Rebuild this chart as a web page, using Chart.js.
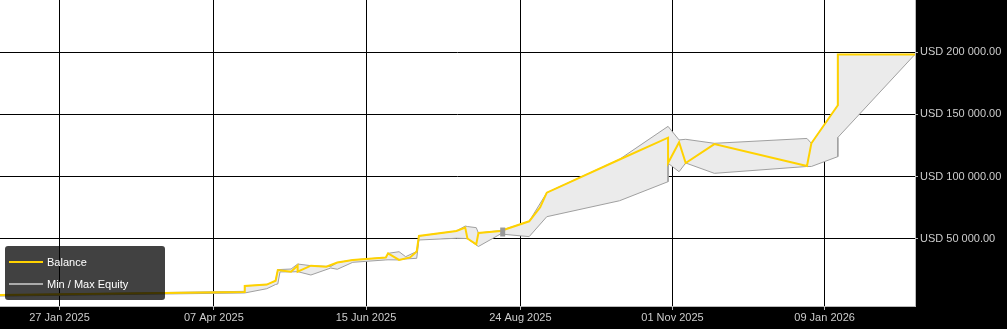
<!DOCTYPE html>
<html>
<head>
<meta charset="utf-8">
<script src="https://cdn.jsdelivr.net/npm/chart.js@4.4.1/dist/chart.umd.min.js"></script>
<style>
  html, body { margin: 0; padding: 0; background: #000; }
  #wrap { position: relative; width: 1007px; height: 329px; }
  #legend { position: absolute; left: 5px; top: 246px; width: 160px; height: 54px;
            background: rgba(0, 0, 0, 0.745); border-radius: 3px;
            font: 11px "Liberation Sans", Arial, sans-serif; color: #fff; }
  .sw { position: absolute; left: 4px; width: 34px; height: 2px; }
  .lb { position: absolute; left: 42px; line-height: 14px; white-space: nowrap; }
</style>
</head>
<body>
<div id="wrap">
  <canvas id="equityChart" width="1007" height="329"></canvas>
  <div id="legend">
    <div class="sw" style="top:15px;background:#FFD200"></div>
    <div class="lb" style="top:9px">Balance</div>
    <div class="sw" style="top:37px;background:#aaaaaa"></div>
    <div class="lb" style="top:31px">Min / Max Equity</div>
  </div>
</div>
<script>
// balance line
const balanceDates = ['2024-12-31','2025-04-21','2025-04-21','2025-05-01','2025-05-05','2025-05-06',
  '2025-05-12','2025-05-15','2025-05-15','2025-05-21','2025-05-28','2025-06-02','2025-06-09',
  '2025-06-24','2025-06-25','2025-06-30','2025-07-05','2025-07-08','2025-07-09','2025-07-26',
  '2025-07-30','2025-07-31','2025-08-04','2025-08-05','2025-08-15','2025-08-28','2025-09-02',
  '2025-09-05','2025-10-08','2025-10-30','2025-10-30','2025-11-04','2025-11-07','2025-11-20',
  '2026-01-01','2026-01-03','2026-01-15','2026-01-15','2026-02-19'];
const balanceValues = [5000,7500,12300,13400,16500,25100,
  23800,28700,23800,28600,27800,31100,33200,
  35200,38500,33200,35200,40000,52400,56400,
  59200,50400,45700,54800,56400,64200,75400,
  87200,113800,131300,111000,127600,111000,126200,
  108600,126800,157300,198100,198100];

// min / max equity band
const bandDates = ['2024-12-31','2025-04-21','2025-04-21','2025-05-01','2025-05-05','2025-05-06',
  '2025-05-07','2025-05-12','2025-05-15','2025-05-21','2025-05-30','2025-06-02','2025-06-09',
  '2025-06-24','2025-06-25','2025-06-30','2025-07-03','2025-07-08','2025-07-09','2025-07-26',
  '2025-07-30','2025-07-31','2025-08-04','2025-08-05','2025-08-15','2025-08-28','2025-09-05',
  '2025-10-08','2025-10-30','2025-10-30','2025-11-04','2025-11-07','2025-11-20','2026-01-01',
  '2026-01-03','2026-01-15','2026-01-15','2026-02-19'];
const equityMax = [5100,8000,12300,13400,16500,25500,
  25500,25900,29900,28600,27900,31100,33200,
  35200,38500,39800,35800,40000,52400,56400,
  60400,60000,59100,54800,56800,64200,87200,
  114000,140400,140400,129500,130000,126800,130700,
  126800,157300,198100,198200];
const equityMin = [4200,6700,6700,10100,13500,13900,
  23600,23600,23800,21100,26700,25700,31300,
  33200,33300,33200,34000,34500,49200,50600,
  50400,50200,45200,44000,54000,51900,67900,
  80700,96000,110800,104000,111000,102700,108200,
  108200,116100,131500,198200];

const markerDates = ['2025-08-16'];
const markerValues = [55600];

const xTickDates = ['2025-01-27','2025-04-07','2025-06-15','2025-08-24','2025-11-01','2026-01-09'];
const yTickValues = [50000, 100000, 150000, 200000];
const xRange = ['2024-12-31', '2026-02-19'];
const yRange = [-3770, 241800];

const MONTHS = ['Jan','Feb','Mar','Apr','May','Jun','Jul','Aug','Sep','Oct','Nov','Dec'];
const FONT = '"Liberation Sans", Arial, sans-serif';

toDay = (s) => Date.UTC(+s.slice(0, 4), +s.slice(5, 7) - 1, +s.slice(8, 10)) / 864e5;

formatDay = (v) => {
    const d = new Date(Math.round(v) * 864e5);
    return String(d.getUTCDate()).padStart(2, '0') + ' ' + MONTHS[d.getUTCMonth()] + ' ' + d.getUTCFullYear();
}

formatUsd = (v) => 'USD ' + String(v).replace(/\B(?=(\d{3})+(?!\d))/g, ' ') + '.00';

// band as one closed shape: max forward, min back
const bandPoints = bandDates.map((d, i) => ({ x: toDay(d), y: equityMax[i] }))
    .concat(bandDates.map((d, i) => ({ x: toDay(d), y: equityMin[i] })).reverse());

const whiteArea = {
    id: 'whiteArea',
    beforeDraw(chart) {
        const a = chart.chartArea;
        chart.ctx.save();
        chart.ctx.fillStyle = '#ffffff';
        chart.ctx.fillRect(a.left, a.top, a.right - a.left, a.bottom - a.top);
        chart.ctx.restore();
    }
};

// no extra room for the labels, the chart area fills the canvas
noPad = (scale) => {
    scale.paddingTop = 0;
    scale.paddingBottom = 0;
    scale.paddingLeft = 0;
    scale.paddingRight = 0;
}

new Chart(document.getElementById('equityChart'), {
    type: 'line',
    data: {
        datasets: [{
            label: 'marker',
            data: markerDates.map((d, i) => ({ x: toDay(d), y: markerValues[i] })),
            showLine: false,
            pointStyle: 'line',
            rotation: 90,
            pointRadius: 4.5,
            pointBorderWidth: 5,
            pointBorderColor: '#999999',
            pointBackgroundColor: '#999999'
        }, {
            label: 'Balance',
            data: balanceDates.map((d, i) => ({ x: toDay(d), y: balanceValues[i] })),
            borderColor: '#FFD200',
            borderWidth: 2,
            pointRadius: 0,
            tension: 0,
            fill: false
        }, {
            label: 'Min / Max Equity',
            data: bandPoints,
            borderColor: '#a0a0a0',
            borderWidth: 1,
            backgroundColor: '#ebebeb',
            pointRadius: 0,
            tension: 0,
            fill: 'shape'
        }]
    },
    options: {
        responsive: false,
        animation: false,
        layout: { padding: 0, autoPadding: false },
        plugins: {
            legend: { display: false },
            tooltip: { enabled: false }
        },
        scales: {
            x: {
                type: 'linear',
                min: toDay(xRange[0]),
                max: toDay(xRange[1]),
                afterBuildTicks: (scale) => { scale.ticks = xTickDates.map(d => ({ value: toDay(d) })); },
                afterFit: (scale) => { scale.height = 23; noPad(scale); },
                grid: { color: '#000000', lineWidth: 1, tickLength: 4, tickColor: '#bbbbbb' },
                border: { color: '#bbbbbb', width: 1 },
                ticks: {
                    autoSkip: false, maxRotation: 0, padding: 1,
                    color: '#cccccc', font: { family: FONT, size: 11 },
                    callback: (v) => formatDay(v)
                }
            },
            y: {
                position: 'right',
                min: yRange[0],
                max: yRange[1],
                afterBuildTicks: (scale) => { scale.ticks = yTickValues.map(v => ({ value: v })); },
                afterFit: (scale) => { scale.width = 92; noPad(scale); },
                grid: { color: '#000000', lineWidth: 1, tickLength: 3, tickColor: '#bbbbbb' },
                border: { color: '#bbbbbb', width: 1 },
                ticks: {
                    padding: 2,
                    color: '#cccccc', font: { family: FONT, size: 11 },
                    callback: (v) => formatUsd(v)
                }
            }
        }
    },
    plugins: [whiteArea]
});
</script>
</body>
</html>
